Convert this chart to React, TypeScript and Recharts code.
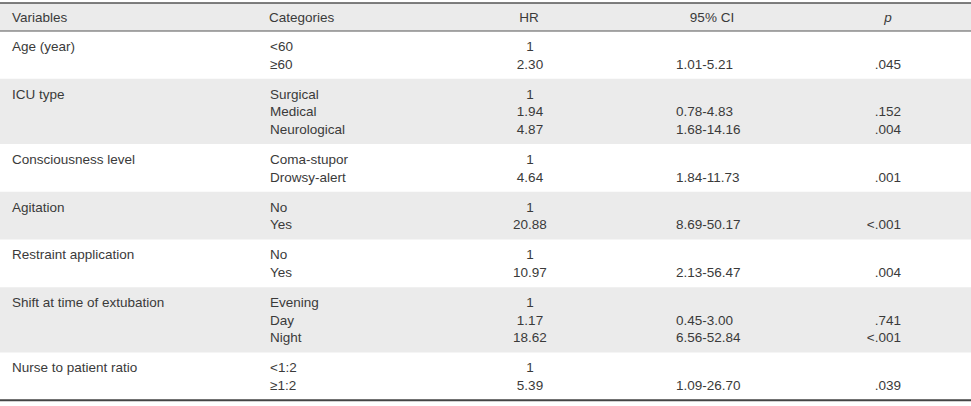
import { ScatterChart, Scatter, XAxis, YAxis, ReferenceArea, ReferenceLine } from 'recharts';

const headers = ['Variables', 'Categories', 'HR', '95% CI', 'p'];

const variables = [
  'Age (year)',
  'ICU type',
  'Consciousness level',
  'Agitation',
  'Restraint application',
  'Shift at time of extubation',
  'Nurse to patient ratio',
];

const categories = [
  ['<60', '≥60'],
  ['Surgical', 'Medical', 'Neurological'],
  ['Coma-stupor', 'Drowsy-alert'],
  ['No', 'Yes'],
  ['No', 'Yes'],
  ['Evening', 'Day', 'Night'],
  ['<1:2', '≥1:2'],
];

const hr = [[1, 2.3], [1, 1.94, 4.87], [1, 4.64], [1, 20.88], [1, 10.97], [1, 1.17, 18.62], [1, 5.39]];

const ciLower = [[null, 1.01], [null, 0.78, 1.68], [null, 1.84], [null, 8.69], [null, 2.13], [null, 0.45, 6.56], [null, 1.09]];
const ciUpper = [[null, 5.21], [null, 4.83, 14.16], [null, 11.73], [null, 50.17], [null, 56.47], [null, 3.0, 52.84], [null, 26.7]];

const pValues = [
  [null, '.045'],
  [null, '.152', '.004'],
  [null, '.001'],
  [null, '<.001'],
  [null, '.004'],
  [null, '.741', '<.001'],
  [null, '.039'],
];

const W = 971;
const H = 406;
const LINE = 17.7;
const PAD = 15;
const HEAD_TOP = 3;
const HEAD_BOTTOM = 31;
const TEXT = '#3a3a3a';
const BAND = '#ebebeb';

const COLS = [
  { key: 'variable', x: 12, anchor: 'start', hx: 12, hanchor: 'start' },
  { key: 'category', x: 270, anchor: 'start', hx: 269, hanchor: 'start' },
  { key: 'hr', x: 530, anchor: 'middle', hx: 529, hanchor: 'middle' },
  { key: 'ci', x: 676, anchor: 'start', hx: 712, hanchor: 'middle' },
  { key: 'p', x: 901, anchor: 'end', hx: 888, hanchor: 'middle' },
];

// lay the groups out one under another
type Cell = { x: number; y: number; text: string };
const cells: Record<string, Cell[]> = { variable: [], category: [], hr: [], ci: [], p: [] };
const bands: { y1: number; y2: number; shaded: boolean }[] = [];

let cur = HEAD_BOTTOM;
variables.forEach((v, g) => {
  const n = categories[g].length;
  const start = cur;
  const end = start + PAD * 2 + (n - 1) * LINE;
  bands.push({ y1: start, y2: end, shaded: g % 2 === 1 });
  cells.variable.push({ x: COLS[0].x, y: start + PAD, text: v });
  for (let k = 0; k < n; k++) {
    const y = start + PAD + k * LINE;
    cells.category.push({ x: COLS[1].x, y, text: categories[g][k] });
    const h = hr[g][k];
    cells.hr.push({ x: COLS[2].x, y, text: h === 1 && k === 0 ? '1' : h.toFixed(2) });
    const lo = ciLower[g][k];
    const hi = ciUpper[g][k];
    if (lo != null && hi != null) cells.ci.push({ x: COLS[3].x, y, text: `${lo.toFixed(2)}-${hi.toFixed(2)}` });
    const p = pValues[g][k];
    if (p) cells.p.push({ x: COLS[4].x, y, text: p });
  }
  cur = end;
});

const headerCells = headers.map((t, i) => ({ x: COLS[i].hx, y: (HEAD_TOP + HEAD_BOTTOM) / 2, text: t, anchor: COLS[i].hanchor, italic: i === 4 }));

const makeShape = (anchor: string) => (props: any) => (
  <text
    x={props.cx}
    y={props.cy}
    dy="0.36em"
    textAnchor={anchor}
    fill={TEXT}
    fontSize={13.5}
    fontStyle={props.payload?.italic ? 'italic' : 'normal'}
    fontFamily="'Liberation Sans', Arial, sans-serif"
  >
    {props.payload.text}
  </text>
);

export default function App() {
  return (
    <div style={{ position: 'absolute', left: 0, top: 0, background: '#fff' }}>
      <ScatterChart width={W} height={H} margin={{ top: 0, right: 0, bottom: 0, left: 0 }}>
        <XAxis type="number" dataKey="x" domain={[0, W]} hide />
        <YAxis type="number" dataKey="y" domain={[0, H]} reversed hide />
        <ReferenceArea x1={0} x2={W} y1={HEAD_TOP} y2={HEAD_BOTTOM} fill={BAND} fillOpacity={1} stroke="none" />
        {bands.filter((b) => b.shaded).map((b, i) => (
          <ReferenceArea key={i} x1={0} x2={W} y1={b.y1} y2={b.y2} fill={BAND} fillOpacity={1} stroke="none" />
        ))}
        <ReferenceLine y={HEAD_TOP} stroke="#555" strokeWidth={1.5} />
        <ReferenceLine y={HEAD_BOTTOM} stroke="#555" strokeWidth={1} />
        <ReferenceLine y={cur} stroke="#444" strokeWidth={2} />
        {headers.map((_, i) => (
          <Scatter key={`h${i}`} data={[headerCells[i]]} shape={makeShape(headerCells[i].anchor)} isAnimationActive={false} />
        ))}
        {COLS.map((c) => (
          <Scatter key={c.key} data={cells[c.key]} shape={makeShape(c.anchor)} isAnimationActive={false} />
        ))}
      </ScatterChart>
    </div>
  );
}
